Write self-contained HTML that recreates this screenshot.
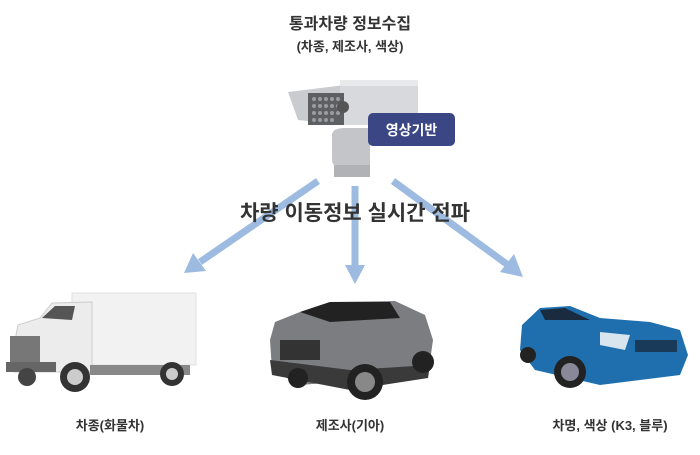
<!DOCTYPE html>
<html><head><meta charset="utf-8"><style>
html,body{margin:0;padding:0;background:#fff;}
svg{display:block;}
text{font-family:"Liberation Sans","Noto Sans CJK KR",sans-serif;font-weight:bold;fill:#333;}
</style></head><body>
<svg width="700" height="455" viewBox="0 0 700 455" xmlns="http://www.w3.org/2000/svg">
<text x="350" y="29" font-size="16" text-anchor="middle">통과차량 정보수집</text>
<text x="350" y="51" font-size="13" text-anchor="middle">(차종, 제조사, 색상)</text>

<!-- camera -->
<path d="M288 92 L345 85 L345 125 L298 120 Z" fill="#c9cbcf"/>
<rect x="340" y="80" width="78" height="45" fill="#d8d9dc"/>
<rect x="340" y="80" width="78" height="6" fill="#e8e9eb"/>
<rect x="308" y="93" width="36" height="32" fill="#5d5f63"/>
<g fill="#9a9ca0"><circle cx="314" cy="99" r="2"/><circle cx="320" cy="99" r="2"/><circle cx="326" cy="99" r="2"/><circle cx="332" cy="99" r="2"/><circle cx="338" cy="99" r="2"/><circle cx="314" cy="106" r="2"/><circle cx="320" cy="106" r="2"/><circle cx="326" cy="106" r="2"/><circle cx="332" cy="106" r="2"/><circle cx="338" cy="106" r="2"/><circle cx="314" cy="113" r="2"/><circle cx="320" cy="113" r="2"/><circle cx="326" cy="113" r="2"/><circle cx="332" cy="113" r="2"/><circle cx="338" cy="113" r="2"/><circle cx="314" cy="120" r="2"/><circle cx="320" cy="120" r="2"/><circle cx="326" cy="120" r="2"/><circle cx="332" cy="120" r="2"/></g>
<circle cx="343" cy="107" r="6" fill="#555"/>
<path d="M332 135 Q332 128 345 128 L370 128 L370 165 L335 165 Q332 165 332 158 Z" fill="#c3c5c8"/>
<rect x="334" y="165" width="36" height="12" fill="#b0b2b5"/>
<rect x="368" y="113" width="87" height="33" rx="5" fill="#3b4785"/>
<text x="411.5" y="135" font-size="14" text-anchor="middle" style="fill:#fff">영상기반</text>

<!-- arrows -->
<g stroke="#9dbbe0" stroke-width="7" fill="#9dbbe0">
<line x1="318" y1="181" x2="200" y2="262"/>
<line x1="355" y1="186" x2="355" y2="268"/>
<line x1="393" y1="181" x2="508" y2="265"/>
</g>
<g fill="#9dbbe0">
<polygon points="184,273 193,253 206,271"/>
<polygon points="355,284 345,265 365,265"/>
<polygon points="523,277 500,272 514,254"/>
</g>
<text x="355" y="220" font-size="21" text-anchor="middle">차량 이동정보 실시간 전파</text>

<!-- truck -->
<rect x="72" y="293" width="124" height="72" fill="#f2f2f2" stroke="#e2e2e2"/>
<path d="M14 345 L18 325 L40 318 L52 303 L92 302 L92 372 L14 372 Z" fill="#ececec" stroke="#ccc"/>
<path d="M42 318 L55 306 L75 306 L72 320 Z" fill="#555"/>
<rect x="10" y="336" width="30" height="26" fill="#777"/>
<rect x="6" y="362" width="50" height="10" fill="#666"/>
<rect x="90" y="365" width="100" height="10" fill="#888"/>
<circle cx="75" cy="377" r="15" fill="#333"/><circle cx="75" cy="377" r="8" fill="#ccc"/>
<circle cx="172" cy="374" r="12" fill="#333"/><circle cx="172" cy="374" r="6" fill="#ccc"/>
<circle cx="27" cy="377" r="9" fill="#444"/>

<!-- SUV -->
<path d="M270 340 L275 322 L300 312 L330 302 L395 301 L425 315 L433 340 L428 375 L300 385 L272 370 Z" fill="#7c7d80"/>
<path d="M300 312 L330 302 L390 302 L400 318 L330 322 Z" fill="#222"/>
<rect x="280" y="340" width="40" height="20" fill="#333"/>
<path d="M270 360 L350 370 L430 365 L428 378 L350 390 L272 375 Z" fill="#3a3a3a"/>
<circle cx="365" cy="382" r="18" fill="#222"/><circle cx="365" cy="382" r="10" fill="#888"/>
<circle cx="423" cy="362" r="11" fill="#222"/>
<circle cx="298" cy="378" r="10" fill="#222"/>

<!-- blue car -->
<path d="M520 350 L522 325 L540 308 L570 306 L600 318 L650 322 L680 330 L688 355 L680 375 L600 385 L535 370 Z" fill="#1f6fae"/>
<path d="M540 310 L565 308 L590 320 L545 320 Z" fill="#1a2b40"/>
<path d="M600 332 L630 335 L625 350 L600 345 Z" fill="#d8e4ee"/>
<rect x="635" y="340" width="42" height="12" fill="#1a3a5a"/>
<circle cx="570" cy="372" r="16" fill="#222"/><circle cx="570" cy="372" r="9" fill="#889"/>
<circle cx="528" cy="355" r="8" fill="#222"/>

<text x="110" y="430" font-size="13" text-anchor="middle">차종(화물차)</text>
<text x="350" y="430" font-size="13" text-anchor="middle">제조사(기아)</text>
<text x="610" y="430" font-size="13" text-anchor="middle">차명, 색상 (K3, 블루)</text>
</svg>
</body></html>
